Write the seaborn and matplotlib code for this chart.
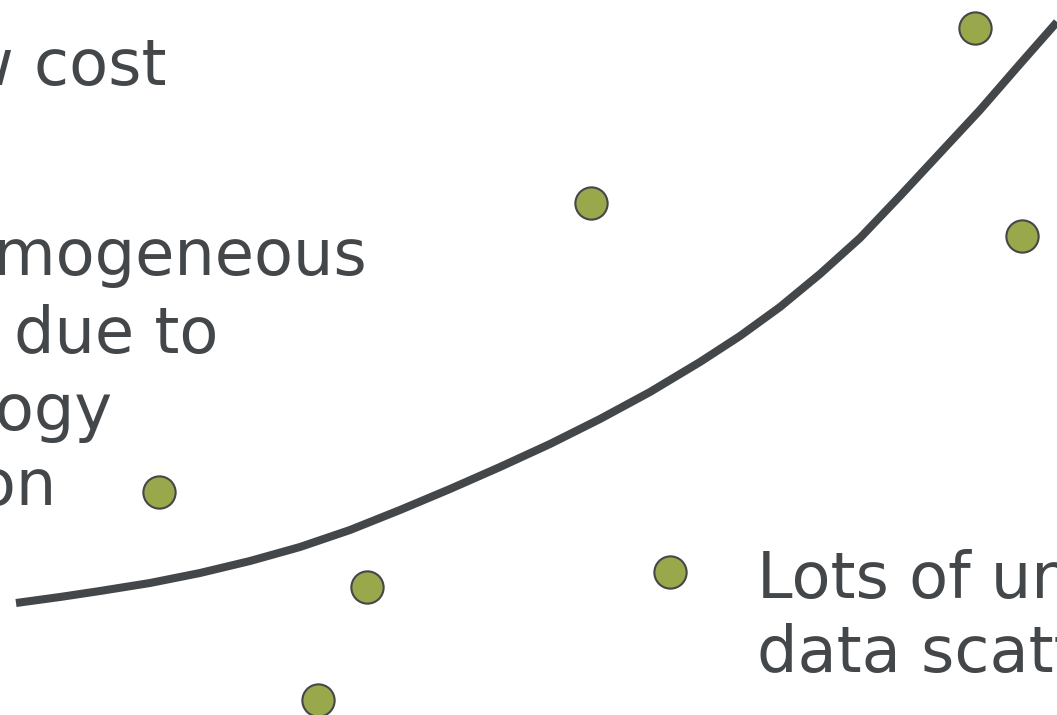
import matplotlib
matplotlib.use("Agg")
import matplotlib.pyplot as plt
import pandas as pd
import seaborn as sns

# Trend curve (canvas units, y grows downward)
curve_x = [16, 60, 100, 150, 200, 250, 300, 350, 400, 450, 500, 550, 600, 650, 700,
           740, 780, 820, 860, 900, 940, 980, 1020, 1057]
curve_y = [603, 597, 591, 583, 573, 561, 547, 530, 510, 489, 467, 444, 419, 392, 362,
           336, 307, 274, 238, 196, 153, 110, 64, 22]

# Scattered observations
point_x = [975, 591, 1022, 159, 367, 670, 318]
point_y = [28, 203, 236, 492, 587, 572, 700]

# Annotation lines: (text, anchor x, baseline y, horizontal alignment)
label_text = ["Low cost", "Inhomogeneous", "data due to", "technology", "evolution",
              "Lots of unusual", "data scatter"]
label_x = [166, 368, 218, 112, 57, 757, 757]
label_y = [85, 275, 353, 430, 505, 598, 672]
label_ha = ["right", "right", "right", "right", "right", "left", "left"]

INK = "#43474a"
GREEN = "#98a84a"

sns.set_theme(style="white")
plt.rcParams["font.family"] = ["DejaVu Sans"]

fig = plt.figure(figsize=(10.57, 7.15), dpi=100)
ax = fig.add_axes([0, 0, 1, 1])

curve = pd.DataFrame({"x": curve_x, "y": curve_y})
points = pd.DataFrame({"x": point_x, "y": point_y})

sns.lineplot(data=curve, x="x", y="y", ax=ax, color=INK, linewidth=5.8,
             sort=False, estimator=None, solid_capstyle="butt", solid_joinstyle="round")
sns.scatterplot(data=points, x="x", y="y", ax=ax, color=GREEN, s=540,
                edgecolor=INK, linewidth=1.5, zorder=3)

for t, x, y, ha in zip(label_text, label_x, label_y, label_ha):
    ax.text(x, y, t, ha=ha, va="baseline", fontsize=46, color=INK)

ax.set_xlim(0, 1057)
ax.set_ylim(715, 0)
ax.axis("off")

fig.savefig("out.png", dpi=100)
